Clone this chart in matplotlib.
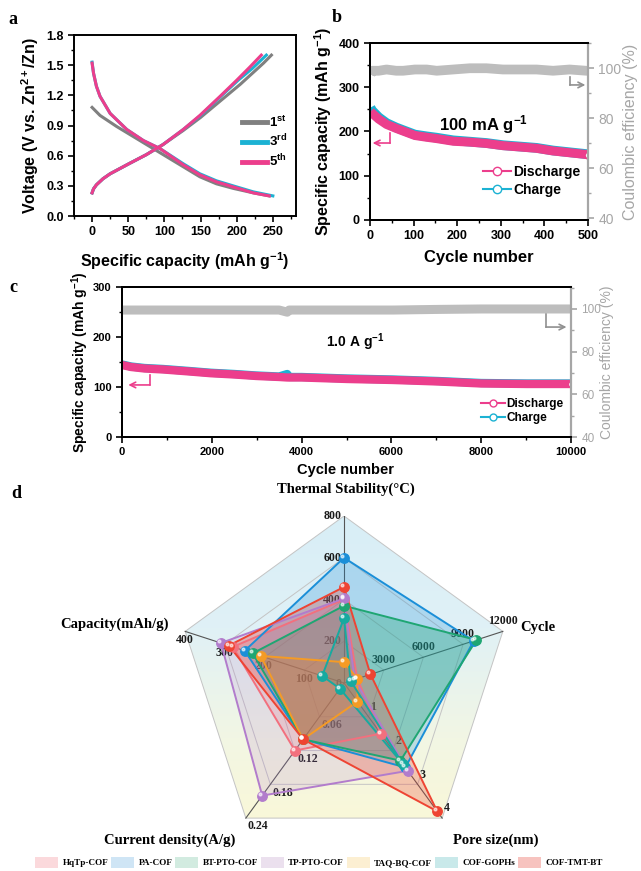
import numpy as np
import matplotlib.pyplot as plt
from matplotlib.ticker import MultipleLocator
from matplotlib.patches import Polygon, Patch
from matplotlib.lines import Line2D
from matplotlib.colors import LinearSegmentedColormap

plt.rcParams['font.family'] = ['Liberation Sans', 'DejaVu Sans']
plt.rcParams['font.weight'] = 'bold'
plt.rcParams['axes.labelweight'] = 'bold'
plt.rcParams['mathtext.fontset'] = 'custom'
plt.rcParams['mathtext.rm'] = 'Liberation Sans:bold'
plt.rcParams['mathtext.it'] = 'Liberation Sans:bold'
plt.rcParams['mathtext.bf'] = 'Liberation Sans:bold'
plt.rcParams['axes.linewidth'] = 1.4
plt.rcParams['xtick.direction'] = 'out'
plt.rcParams['ytick.direction'] = 'out'

GRAY = '#808080'
CYAN = '#1cb2d3'
PINK = '#ec3e8c'
CE_GRAY = '#bdbdbd'
AX_GRAY = '#a6a6a6'
SERIF = ['Liberation Serif', 'DejaVu Serif']

# ---- panel a: charge/discharge profiles
cap_dis_1 = [0, 11, 34, 57, 80, 103, 126, 149, 172, 195, 223, 245]
v_dis_1 = [1.08, 1.00, 0.89, 0.79, 0.69, 0.59, 0.49, 0.39, 0.32, 0.275, 0.23, 0.20]
cap_chg_1 = [0, 2, 6, 15, 25, 51, 75, 98, 126, 150, 180, 205, 237, 248]
v_chg_1 = [0.23, 0.27, 0.31, 0.37, 0.42, 0.52, 0.61, 0.71, 0.85, 0.98, 1.16, 1.31, 1.52, 1.60]
cap_dis_3 = [0, 2, 6, 11, 25, 48, 71, 94, 126, 149, 172, 195, 223, 250]
v_dis_3 = [1.53, 1.42, 1.29, 1.19, 1.02, 0.86, 0.75, 0.67, 0.52, 0.42, 0.35, 0.30, 0.24, 0.20]
cap_chg_3 = [0, 2, 6, 15, 25, 51, 75, 98, 126, 150, 178, 202, 222, 241]
v_chg_3 = [0.23, 0.27, 0.31, 0.37, 0.42, 0.52, 0.61, 0.71, 0.86, 1.0, 1.19, 1.35, 1.47, 1.60]
cap_dis_5 = [0, 2, 6, 11, 25, 48, 71, 94, 126, 149, 172, 195, 223, 245]
v_dis_5 = [1.52, 1.42, 1.29, 1.19, 1.02, 0.86, 0.75, 0.67, 0.51, 0.41, 0.34, 0.29, 0.23, 0.20]
cap_chg_5 = [0, 2, 6, 15, 25, 51, 75, 98, 126, 149, 177, 200, 218, 234]
v_chg_5 = [0.23, 0.27, 0.31, 0.37, 0.42, 0.52, 0.61, 0.71, 0.86, 1.0, 1.19, 1.35, 1.48, 1.60]

# ---- panel b: cycling at 100 mA/g
cyc_b = [1, 5, 20, 38, 60, 76, 103, 130, 153, 191, 229, 267, 305, 344, 382, 420, 458, 496, 500]
dis_b = [245, 241, 228, 216, 207, 201, 191, 187, 184, 178, 176, 173, 168, 165, 162, 156, 152, 148, 148]
chg_b = [254, 247, 232, 219, 209, 203, 193, 189, 186, 180, 177, 174, 169, 166, 163, 157, 153, 149, 149]
ce_b = [97.5, 99, 99, 99.5, 99, 99, 99.5, 99.5, 99, 99.5, 100, 100, 99.5, 99.5, 99.5, 99, 99.5, 99, 99]

# ---- panel c: cycling at 1.0 A/g
cyc_c = [1, 200, 500, 920, 1500, 1980, 2500, 2990, 3500, 3680, 3720, 4000, 5010, 6030, 7040, 8000, 9020, 10000]
dis_c = [144, 140, 137, 135, 131, 127.5, 125, 122, 120, 119, 119, 119, 116, 114, 111, 107, 106, 106]
chg_c = [145, 141, 138, 136, 132, 128.5, 126, 123, 121, 126, 120, 120, 117, 115, 112, 108, 107, 107]
ce_c = [99.5, 99.5, 99.5, 99.5, 99.5, 99.5, 99.5, 99.5, 99.5, 98.5, 99.5, 99.5, 99.5, 99.5, 99.8, 100, 100, 100]

# ---- panel d: radar comparison
cof_names = ['HqTp-COF', 'PA-COF', 'BT-PTO-COF', 'TP-PTO-COF', 'TAQ-BQ-COF', 'COF-GOPHs', 'COF-TMT-BT']
thermal = [400, 600, 370, 405, 100, 310, 460]
cycle = [1000, 9800, 10000, 800, 1000, 500, 2000]
pore = [1.5, 2.5, 2.3, 2.6, 0.55, 2.4, 3.8]
current = [0.12, 0.10, 0.10, 0.20, 0.10, 0.01, 0.10]
capacity = [280, 250, 230, 310, 210, 55, 290]
axis_max = [800, 12000, 4, 0.24, 400]
axis_ticks = [['200', '400', '600', '800'],
              ['3000', '6000', '9000', '12000'],
              ['1', '2', '3', '4'],
              ['0.06', '0.12', '0.18', '0.24'],
              ['100', '200', '300', '400']]
line_colors = ['#f2707e', '#1b8fd8', '#1fa673', '#b27ccc', '#f59b25', '#17aaa0', '#ee4433']
fill_alpha = [0.22, 0.25, 0.32, 0.18, 0.28, 0.22, 0.28]
legend_colors = ['#fbd9dc', '#cfe5f5', '#d2ebe0', '#ebe0ee', '#fcefd2', '#c9e9ea', '#f7c3bf']

W, H = 641, 871
fig = plt.figure(figsize=(W / 100, H / 100), dpi=100)


def rect(x0, y0, x1, y1):
    return [x0 / W, 1 - y1 / H, (x1 - x0) / W, (y1 - y0) / H]


def ftext(x, y, s, **kw):
    fig.text(x / W, 1 - y / H, s, **kw)


def style_ticks(ax, size):
    ax.tick_params(which='major', length=4, width=1.2, labelsize=size)
    ax.tick_params(which='minor', length=2.5, width=1.0)


# ======== a
ax_a = fig.add_axes(rect(74, 35, 296, 216))
ax_a.plot(cap_dis_1, v_dis_1, color=GRAY, lw=2.2)
ax_a.plot(cap_chg_1, v_chg_1, color=GRAY, lw=2.2, label='1$^{st}$')
ax_a.plot(cap_dis_3, v_dis_3, color=CYAN, lw=2.2)
ax_a.plot(cap_chg_3, v_chg_3, color=CYAN, lw=2.2, label='3$^{rd}$')
ax_a.plot(cap_dis_5, v_dis_5, color=PINK, lw=2.2)
ax_a.plot(cap_chg_5, v_chg_5, color=PINK, lw=2.2, label='5$^{th}$')
ax_a.set_xlim(-25, 282)
ax_a.set_ylim(0, 1.8)
ax_a.xaxis.set_major_locator(MultipleLocator(50))
ax_a.xaxis.set_minor_locator(MultipleLocator(25))
ax_a.yaxis.set_major_locator(MultipleLocator(0.3))
ax_a.yaxis.set_minor_locator(MultipleLocator(0.15))
ax_a.yaxis.set_major_formatter(plt.FormatStrFormatter('%.1f'))
style_ticks(ax_a, 9)
ax_a.set_xlabel('Specific capacity (mAh g$^{-1}$)', fontsize=11.5)
ax_a.set_ylabel('Voltage (V vs. Zn$^{2+}$/Zn)', fontsize=11.5)
ax_a.xaxis.set_label_coords(0.5, -0.19)
ax_a.yaxis.set_label_coords(-0.15, 0.5)
leg = ax_a.legend(loc='upper left', bbox_to_anchor=(0.755, 0.56), frameon=False,
                  fontsize=9.5, handlelength=1.9, handletextpad=0.2, labelspacing=0.25,
                  borderpad=0, borderaxespad=0)
for h in leg.get_lines():
    h.set_linewidth(3.5)

# ======== b
ax_b = fig.add_axes(rect(370, 43, 588, 220))
ax_b2 = ax_b.twinx()
ax_b2.plot(cyc_b, ce_b, color=CE_GRAY, lw=7, solid_capstyle='butt')
ax_b2.set_ylim(39.3, 110.1)
ax_b2.yaxis.set_major_locator(MultipleLocator(20))
ax_b2.yaxis.set_minor_locator(MultipleLocator(10))
ax_b2.tick_params(axis='y', which='both', colors=AX_GRAY)
ax_b2.tick_params(which='major', length=4, width=1.2, labelsize=10)
ax_b2.tick_params(which='minor', length=2.5, width=1.0)
for lab in ax_b2.get_yticklabels():
    lab.set_fontweight('normal')
ax_b2.spines['right'].set_color(AX_GRAY)
ax_b2.spines['right'].set_linewidth(1.6)
ax_b2.set_ylabel('Coulombic efficiency (%)', fontsize=11.5, color=AX_GRAY, fontweight='normal')
ax_b2.yaxis.set_label_coords(1.16, 0.5)

ax_b.plot(cyc_b, chg_b, color=CYAN, lw=7, solid_capstyle='butt')
ax_b.plot(cyc_b, dis_b, color=PINK, lw=6.5, solid_capstyle='butt')
ax_b.plot(cyc_b[-1], dis_b[-1], 'o', mfc='white', mec=PINK, ms=5, mew=1.2)
ax_b.set_xlim(0, 500)
ax_b.set_ylim(0, 400)
ax_b.xaxis.set_major_locator(MultipleLocator(100))
ax_b.xaxis.set_minor_locator(MultipleLocator(50))
ax_b.yaxis.set_major_locator(MultipleLocator(100))
ax_b.yaxis.set_minor_locator(MultipleLocator(50))
style_ticks(ax_b, 9)
ax_b.set_xlabel('Cycle number', fontsize=12)
ax_b.set_ylabel('Specific capacity (mAh g$^{-1}$)', fontsize=11.5)
ax_b.xaxis.set_label_coords(0.5, -0.17)
ax_b.yaxis.set_label_coords(-0.165, 0.5)
ax_b.text(0.52, 0.537, '100 mA g$^{-1}$', transform=ax_b.transAxes, ha='center', va='center', fontsize=12)
ax_b.plot([0.092, 0.092], [0.492, 0.435], color=PINK, lw=1.2, transform=ax_b.transAxes)
ax_b.annotate('', xy=(0.012, 0.435), xytext=(0.092, 0.435), xycoords='axes fraction',
              arrowprops=dict(arrowstyle='->', color=PINK, lw=1.2, shrinkA=0, shrinkB=0))
ax_b.plot([0.917, 0.917], [0.808, 0.763], color='#909090', lw=1.2, transform=ax_b.transAxes)
ax_b.annotate('', xy=(0.988, 0.763), xytext=(0.917, 0.763), xycoords='axes fraction',
              arrowprops=dict(arrowstyle='->', color='#909090', lw=1.2, shrinkA=0, shrinkB=0))
hb = [Line2D([], [], color=PINK, lw=1.5, marker='o', mfc='white', mec=PINK, ms=6),
      Line2D([], [], color=CYAN, lw=1.5, marker='o', mfc='white', mec=CYAN, ms=6)]
ax_b.legend(hb, ['Discharge', 'Charge'], loc='upper left', bbox_to_anchor=(0.52, 0.31),
            frameon=False, fontsize=10, handlelength=2.0, handletextpad=0.15,
            labelspacing=0.25, borderpad=0, borderaxespad=0)

# ======== c
ax_c = fig.add_axes(rect(122, 287, 571, 437))
ax_c2 = ax_c.twinx()
ax_c2.plot(cyc_c, ce_c, color=CE_GRAY, lw=6.5, solid_capstyle='butt')
ax_c2.set_ylim(40, 110.3)
ax_c2.yaxis.set_major_locator(MultipleLocator(20))
ax_c2.yaxis.set_minor_locator(MultipleLocator(10))
ax_c2.tick_params(axis='y', which='both', colors=AX_GRAY)
ax_c2.tick_params(which='major', length=4, width=1.2, labelsize=8.5)
ax_c2.tick_params(which='minor', length=2.5, width=1.0)
for lab in ax_c2.get_yticklabels():
    lab.set_fontweight('normal')
ax_c2.spines['right'].set_color(AX_GRAY)
ax_c2.spines['right'].set_linewidth(1.6)
ax_c2.set_ylabel('Coulombic efficiency (%)', fontsize=10, color=AX_GRAY, fontweight='normal')
ax_c2.yaxis.set_label_coords(1.065, 0.5)

ax_c.plot(cyc_c, chg_c, color=CYAN, lw=6, solid_capstyle='butt')
ax_c.plot(cyc_c, dis_c, color=PINK, lw=6, solid_capstyle='butt')
ax_c.plot(cyc_c[-1], dis_c[-1], 'o', mfc='white', mec=PINK, ms=4.5, mew=1.1)
ax_c.set_xlim(0, 10000)
ax_c.set_ylim(0, 300)
ax_c.xaxis.set_major_locator(MultipleLocator(2000))
ax_c.xaxis.set_minor_locator(MultipleLocator(1000))
ax_c.yaxis.set_major_locator(MultipleLocator(100))
ax_c.yaxis.set_minor_locator(MultipleLocator(50))
style_ticks(ax_c, 8)
ax_c.set_xlabel('Cycle number', fontsize=10.5)
ax_c.set_ylabel('Specific capacity (mAh g$^{-1}$)', fontsize=10)
ax_c.xaxis.set_label_coords(0.497, -0.17)
ax_c.yaxis.set_label_coords(-0.07, 0.5)
ax_c.text(0.52, 0.633, '1.0 A g$^{-1}$', transform=ax_c.transAxes, ha='center', va='center', fontsize=10)
ax_c.plot([0.062, 0.062], [0.413, 0.347], color=PINK, lw=1.2, transform=ax_c.transAxes)
ax_c.annotate('', xy=(0.014, 0.347), xytext=(0.062, 0.347), xycoords='axes fraction',
              arrowprops=dict(arrowstyle='->', color=PINK, lw=1.2, shrinkA=0, shrinkB=0))
ax_c.plot([0.944, 0.944], [0.827, 0.733], color='#909090', lw=1.2, transform=ax_c.transAxes)
ax_c.annotate('', xy=(0.99, 0.733), xytext=(0.944, 0.733), xycoords='axes fraction',
              arrowprops=dict(arrowstyle='->', color='#909090', lw=1.2, shrinkA=0, shrinkB=0))
hc = [Line2D([], [], color=PINK, lw=1.5, marker='o', mfc='white', mec=PINK, ms=5),
      Line2D([], [], color=CYAN, lw=1.5, marker='o', mfc='white', mec=CYAN, ms=5)]
ax_c.legend(hc, ['Discharge', 'Charge'], loc='upper left', bbox_to_anchor=(0.80, 0.26),
            frameon=False, fontsize=8.5, handlelength=2.0, handletextpad=0.15,
            labelspacing=0.2, borderpad=0, borderaxespad=0)

# ======== d radar
ax_d = fig.add_axes(rect(177, 516, 511, 850))
ax_d.set_xlim(-1, 1)
ax_d.set_ylim(-1, 1)
ax_d.axis('off')
angles = np.deg2rad([90, 18, -54, -126, 162])
cx, cy = np.cos(angles), np.sin(angles)

outer = np.column_stack([cx, cy])
bg = LinearSegmentedColormap.from_list('bg', ['#fcf8d4', '#f2f6e4', '#e0f1f6', '#d8eef7'])
grad = np.linspace(0, 1, 256).reshape(-1, 1)
im = ax_d.imshow(grad, extent=(-1, 1, -1, 1), origin='lower', cmap=bg, aspect='auto', zorder=0)
im.set_clip_path(Polygon(outer, closed=True, transform=ax_d.transData))

for lev in [0.25, 0.5, 0.75, 1.0]:
    ax_d.add_patch(Polygon(outer * lev, closed=True, fill=False, ec='#c4c4c4', lw=0.7, zorder=1))
for k in range(5):
    ax_d.plot([0, cx[k]], [0, cy[k]], color='#555555', lw=0.8, zorder=1)

# tick labels (drawn beneath the polygons)
tick_off = [(-2, 0, 'right'), (0, 7.5, 'center'), (3.5, 7, 'center'), (1.5, -6, 'left'), (-0.5, -6.5, 'center')]
for k in range(5):
    dx, dy, ha = tick_off[k]
    for j, lab in enumerate(axis_ticks[k]):
        lev = (j + 1) / 4
        ax_d.annotate(lab, xy=(lev * cx[k], lev * cy[k]), xytext=(dx, dy), textcoords='offset points',
                      ha=ha, va='center', fontsize=8.6, family=SERIF, fontweight='bold',
                      color='#1a1a1a', zorder=1.5, annotation_clip=False)
ax_d.annotate('0', xy=(0, 0), xytext=(-4, -1), textcoords='offset points', ha='center', va='center',
              fontsize=8.6, family=SERIF, fontweight='bold', color='#1a1a1a', zorder=1.5)

metrics = [thermal, cycle, pore, current, capacity]
for i in range(len(cof_names)):
    r = np.array([metrics[k][i] / axis_max[k] for k in range(5)])
    px, py = r * cx, r * cy
    ax_d.add_patch(Polygon(np.column_stack([px, py]), closed=True, fc=line_colors[i],
                           alpha=fill_alpha[i], ec='none', zorder=2))
for i in range(len(cof_names)):
    r = np.array([metrics[k][i] / axis_max[k] for k in range(5)])
    px, py = r * cx, r * cy
    ax_d.plot(np.append(px, px[0]), np.append(py, py[0]), color=line_colors[i], lw=1.4, zorder=3)
    ax_d.plot(px, py, 'o', color=line_colors[i], ms=6.8, mec=line_colors[i], zorder=4, clip_on=False)
    ax_d.plot(px - 0.012, py + 0.012, 'o', color='white', alpha=0.6, ms=2, zorder=5, clip_on=False)

ftext(346, 489, 'Thermal Stability(°C)', ha='center', va='center', fontsize=10.5, family=SERIF, fontweight='bold')
ftext(520, 627, 'Cycle', ha='left', va='center', fontsize=10.5, family=SERIF, fontweight='bold')
ftext(169, 624, 'Capacity(mAh/g)', ha='right', va='center', fontsize=10.5, family=SERIF, fontweight='bold')
ftext(170, 840, 'Current density(A/g)', ha='center', va='center', fontsize=10.5, family=SERIF, fontweight='bold')
ftext(496, 840, 'Pore size(nm)', ha='center', va='center', fontsize=10.5, family=SERIF, fontweight='bold')

handles = [Patch(fc=c, ec='none') for c in legend_colors]
fig.legend(handles, cof_names, loc='upper left', bbox_to_anchor=(35 / W, 1 - 857 / H), ncol=7,
           frameon=False, borderpad=0, borderaxespad=0, handlelength=2.5, handleheight=1.4,
           handletextpad=0.5, columnspacing=0.3, prop={'family': SERIF, 'weight': 'bold', 'size': 6.6})

# panel letters
for x, y, s in [(13, 20, 'a'), (337, 18, 'b'), (13, 287, 'c'), (16, 493, 'd')]:
    ftext(x, y, s, ha='center', va='center', fontsize=13, family=SERIF, fontweight='bold')

fig.savefig('out.png', dpi=100)
